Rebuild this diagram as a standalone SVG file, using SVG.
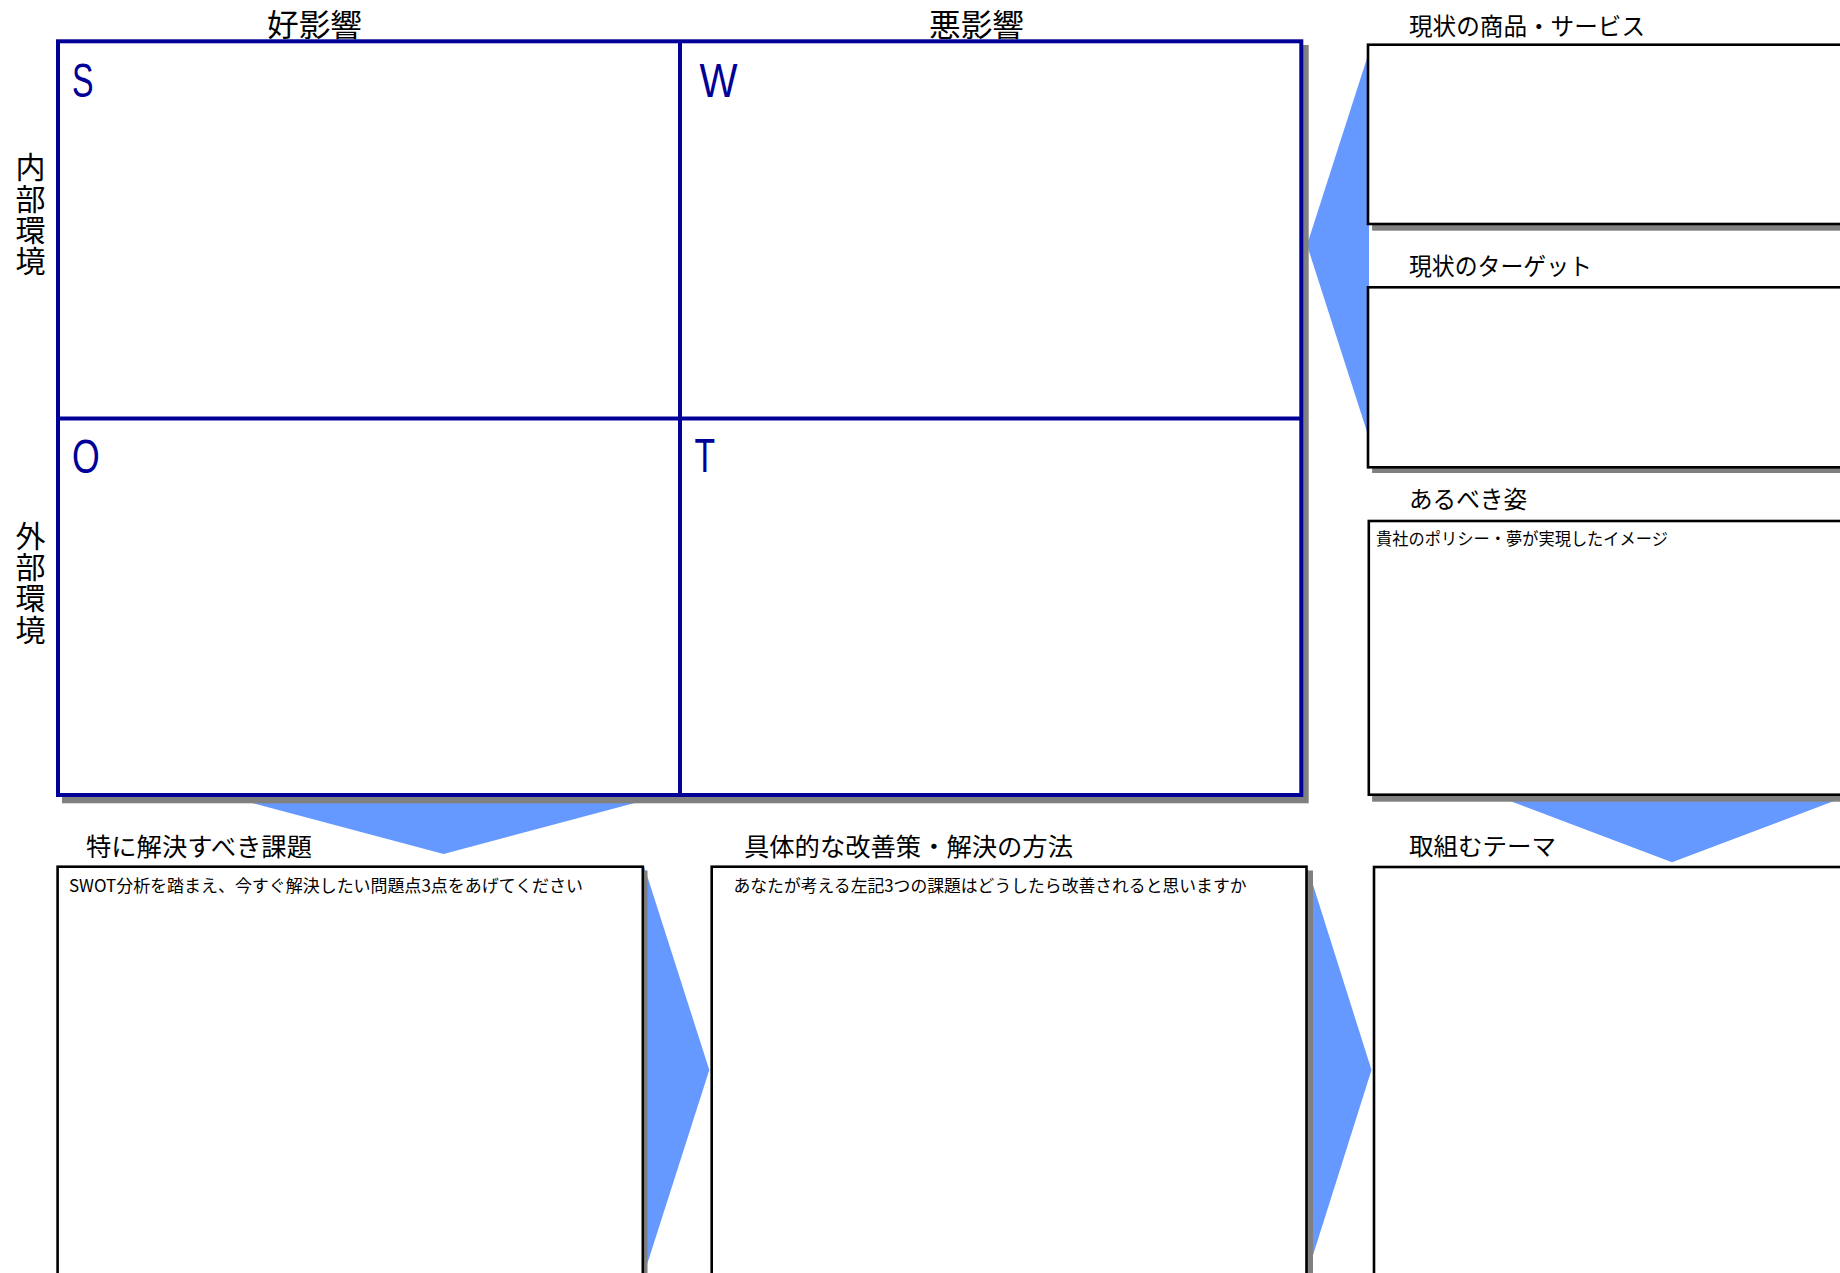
<svg xmlns="http://www.w3.org/2000/svg" width="1840" height="1273" viewBox="0 0 1840 1273">
<style>
.bg{fill:#ffffff}
.sh{fill:#808080}
.box{fill:#ffffff;stroke:#000000;stroke-width:2.6}
.grid{fill:#ffffff;stroke:#000099;stroke-width:4}
.gl{stroke:#000099;stroke-width:4;fill:none}
.arrow{fill:#6699ff}
.lbl{font-family:"Noto Sans CJK JP","Noto Sans",sans-serif;fill:#000000}
.h1{font-size:31px}
.h2{font-size:24px}
.h3{font-size:17px}
.vl{font-family:"Noto Sans CJK JP",sans-serif;font-size:30px;fill:#000000;writing-mode:vertical-rl;letter-spacing:1.3px}
.let{font-family:"Liberation Sans","Noto Sans",sans-serif;font-size:48px;fill:#000099}
</style>
<rect class="bg" x="0" y="0" width="1840" height="1273"/>

<g id="connectors">
  <polygon class="arrow" points="1369,52 1307,245 1369,438"/>
  <polygon class="arrow" points="226,796 661,796 443.6,854"/>
  <polygon class="arrow" points="1496.7,796 1847,796 1672,862.3"/>
  <polygon class="arrow" points="644,866 709.3,1070 644,1274"/>
  <polygon class="arrow" points="1308,869 1371.5,1070 1308,1271"/>
</g>

<g id="swot">
  <rect class="sh" x="62" y="45" width="1246.7" height="758.3"/>
  <rect class="grid" x="58" y="41.3" width="1243.3" height="753.7"/>
  <line class="gl" x1="680" y1="41.3" x2="680" y2="795"/>
  <line class="gl" x1="58" y1="418.5" x2="1301.3" y2="418.5"/>
  <text class="lbl h1" x="267" y="36" textLength="95" lengthAdjust="spacingAndGlyphs">好影響</text>
  <text class="lbl h1" x="929" y="36" textLength="95" lengthAdjust="spacingAndGlyphs">悪影響</text>
  <g id="vlabel-internal">
    <text class="vl" x="30.5" y="152">内部環境</text>
  </g>
  <g id="vlabel-external">
    <text class="vl" x="30.5" y="520.5">外部環境</text>
  </g>
  <g id="cell-s"><text class="let" x="72" y="96.7" textLength="21.5" lengthAdjust="spacingAndGlyphs">S</text></g>
  <g id="cell-w"><text class="let" x="699.5" y="97" textLength="38" lengthAdjust="spacingAndGlyphs">W</text></g>
  <g id="cell-o"><text class="let" x="72" y="473" textLength="27.7" lengthAdjust="spacingAndGlyphs">O</text></g>
  <g id="cell-t"><text class="let" x="694.5" y="471.7" textLength="20.6" lengthAdjust="spacingAndGlyphs">T</text></g>
</g>

<g id="current-products">
  <text class="lbl h2" x="1409" y="35" textLength="236" lengthAdjust="spacingAndGlyphs">現状の商品・サービス</text>
  <rect class="sh" x="1372.1" y="48.7" width="600" height="182"/>
  <rect class="box" x="1368" y="44.7" width="600" height="179.3"/>
</g>

<g id="current-target">
  <text class="lbl h2" x="1409" y="275" textLength="183" lengthAdjust="spacingAndGlyphs">現状のターゲット</text>
  <rect class="sh" x="1372.1" y="291.5" width="600" height="181.5"/>
  <rect class="box" x="1368" y="287.3" width="600" height="180"/>
</g>

<g id="ideal">
  <text class="lbl h2" x="1409" y="508" textLength="118" lengthAdjust="spacingAndGlyphs">あるべき姿</text>
  <rect class="sh" x="1372.1" y="525" width="600" height="276.7"/>
  <rect class="box" x="1368.8" y="521" width="600" height="273.7"/>
  <text class="lbl h3" x="1376" y="545" textLength="292" lengthAdjust="spacingAndGlyphs">貴社のポリシー・夢が実現したイメージ</text>
</g>

<g id="issues">
  <text class="lbl h2" x="86" y="855.5" style="font-size:25px" textLength="226" lengthAdjust="spacingAndGlyphs">特に解決すべき課題</text>
  <rect class="sh" x="62" y="870.5" width="585.5" height="420"/>
  <rect class="box" x="57.6" y="866.7" width="585.2" height="420"/>
  <text class="lbl h3" x="69" y="892" textLength="514" lengthAdjust="spacingAndGlyphs">SWOT分析を踏まえ、今すぐ解決したい問題点3点をあげてください</text>
</g>

<g id="solutions">
  <text class="lbl h2" x="744" y="855.5" style="font-size:25px" textLength="329" lengthAdjust="spacingAndGlyphs">具体的な改善策・解決の方法</text>
  <rect class="sh" x="716" y="870.5" width="597" height="420"/>
  <rect class="box" x="711.7" y="866.7" width="594.8" height="420"/>
  <text class="lbl h3" x="733.5" y="892" textLength="513" lengthAdjust="spacingAndGlyphs">あなたが考える左記3つの課題はどうしたら改善されると思いますか</text>
</g>

<g id="theme">
  <text class="lbl h2" x="1409" y="855" textLength="147" lengthAdjust="spacingAndGlyphs">取組むテーマ</text>
  <rect class="box" x="1374" y="867" width="600" height="420"/>
</g>
</svg>
